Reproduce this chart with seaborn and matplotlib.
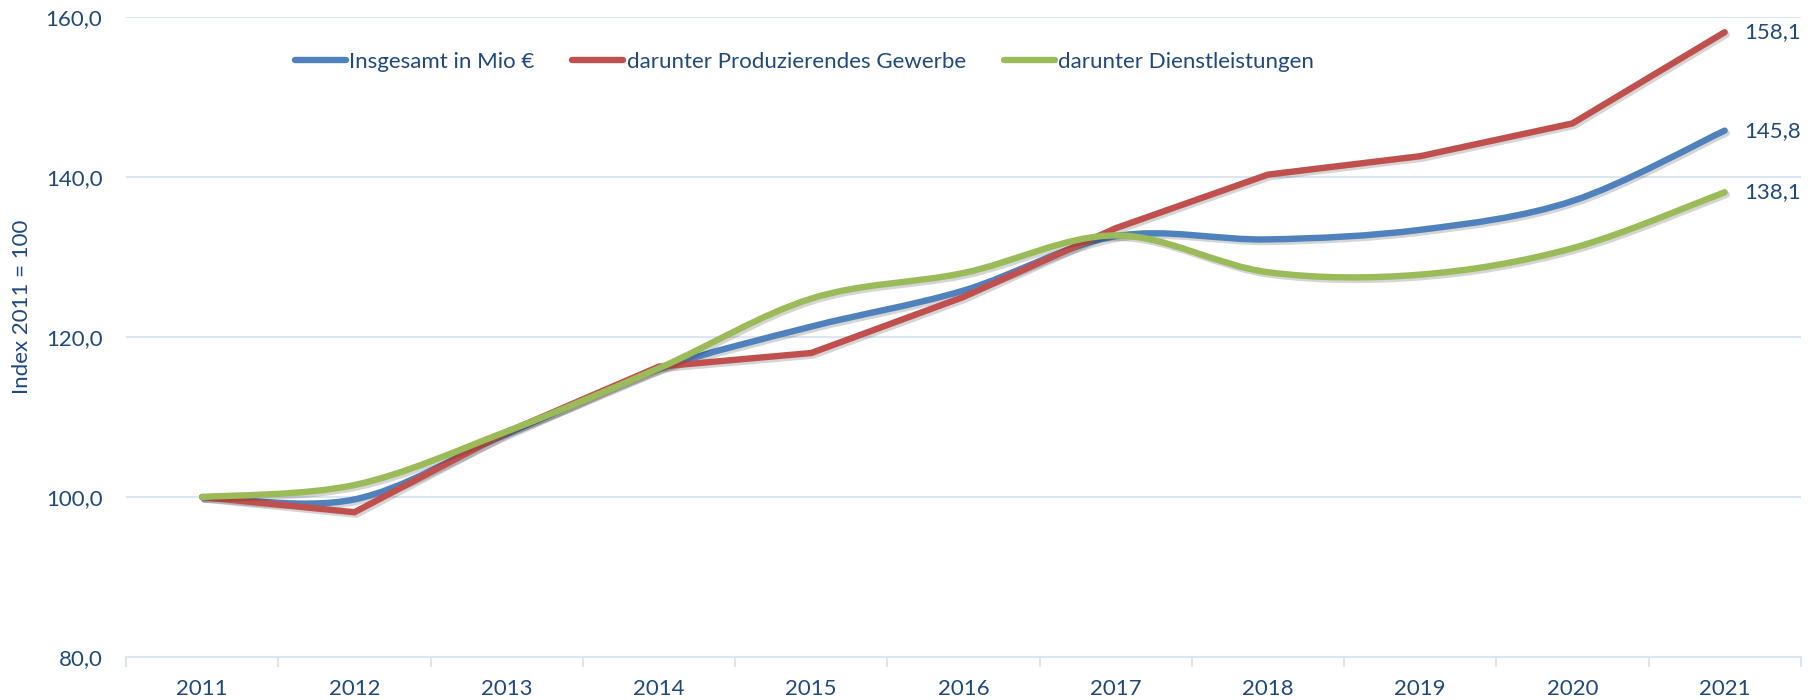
import matplotlib
matplotlib.use("Agg")
import matplotlib.pyplot as plt
import matplotlib.patheffects as pe
from matplotlib.path import Path
from matplotlib.patches import PathPatch
from matplotlib.lines import Line2D
import numpy as np
import pandas as pd
import seaborn as sns

# ---- data (index 2011 = 100) ----
years = [2011, 2012, 2013, 2014, 2015, 2016, 2017, 2018, 2019, 2020, 2021]
insgesamt = [100.0, 99.7, 107.9, 116.0, 121.3, 125.8, 132.6, 132.2, 133.4, 137.0, 145.8]
produzierend = [100.0, 98.1, 108.1, 116.3, 118.0, 125.0, 133.6, 140.3, 142.6, 146.7, 158.1]
dienstleistungen = [100.0, 101.5, 108.2, 116.1, 124.8, 128.0, 132.7, 128.1, 127.8, 131.1, 138.1]
end_labels = ["145,8", "158,1", "138,1"]

names = ["Insgesamt in Mio €", "darunter Produzierendes Gewerbe", "darunter Dienstleistungen"]
colors = ["#4F81BD", "#C0504D", "#9BBB59"]
smoothed = [True, False, True]  # Excel "smoothed line" on blue and green
TEXT = "#1F497D"
GRID = "#DCE5F2"
FS = 16


def bezier_path(xs, ys):
    """Excel-like smoothed line: Catmull-Rom segments as cubic Bezier curves."""
    pts = np.column_stack([xs, ys]).astype(float)
    n = len(pts)
    verts, codes = [pts[0]], [Path.MOVETO]
    for i in range(n - 1):
        p0, p1 = pts[max(i - 1, 0)], pts[i]
        p2, p3 = pts[i + 1], pts[min(i + 2, n - 1)]
        verts += [p1 + (p2 - p0) / 6, p2 - (p3 - p1) / 6, p2]
        codes += [Path.CURVE4] * 3
    return Path(verts, codes)


sns.set_theme(style="white")
plt.rcParams["font.family"] = ["Lato", "DejaVu Sans"]

df = pd.DataFrame({"Jahr": years * 3,
                   "Index": insgesamt + produzierend + dienstleistungen,
                   "Reihe": sum([[n] * len(years) for n in names], [])})

fig, ax = plt.subplots(figsize=(18.19, 7.0), dpi=100)
fig.subplots_adjust(left=0.0693, right=0.990, top=0.9757, bottom=0.0614)

shadow = [pe.SimpleLineShadow(offset=(1.5, -1.8), shadow_color="k", alpha=0.18),
          pe.Normal()]
lw = 4.6

for name, col, smooth in zip(names, colors, smoothed):
    sub = df[df["Reihe"] == name]
    if smooth:
        patch = PathPatch(bezier_path(sub["Jahr"], sub["Index"]), fill=False,
                          edgecolor=col, lw=lw, capstyle="round",
                          joinstyle="round", zorder=3, path_effects=shadow)
        ax.add_patch(patch)
    else:
        sns.lineplot(data=sub, x="Jahr", y="Index", color=col, lw=lw, ax=ax,
                     legend=False, zorder=3, solid_capstyle="round",
                     solid_joinstyle="miter", path_effects=shadow)

# end-of-line value labels
for vals, lab in zip([insgesamt, produzierend, dienstleistungen], end_labels):
    ax.annotate(lab, (years[-1], vals[-1]), xytext=(14, 0),
                textcoords="offset points", va="center", ha="left",
                color=TEXT, fontsize=FS)

# axes
ax.set_xlim(years[0] - 0.5, years[-1] + 0.5)
ax.set_ylim(80, 160)
ax.set_yticks([80, 100, 120, 140, 160])
ax.set_yticklabels([f"{v:.1f}".replace(".", ",") for v in [80, 100, 120, 140, 160]])
ax.set_xticks(np.arange(years[0] - 0.5, years[-1] + 1.0, 1.0))
ax.set_xticklabels([])
ax.set_xticks(years, minor=True)
ax.set_xticklabels([str(y) for y in years], minor=True)
ax.tick_params(axis="x", which="major", length=7, width=1.5, color=GRID,
               direction="out", bottom=True)
ax.tick_params(axis="x", which="minor", length=0, pad=16, labelsize=FS,
               labelcolor=TEXT)
ax.tick_params(axis="y", length=0, pad=17, labelsize=FS, labelcolor=TEXT)

ax.grid(axis="y", color=GRID, lw=1.5)
ax.grid(axis="x", visible=False)
ax.set_axisbelow(True)
for s in ["top", "right", "left"]:
    ax.spines[s].set_visible(False)
ax.spines["bottom"].set_color(GRID)
ax.spines["bottom"].set_linewidth(1.5)

ax.set_xlabel("")
ax.set_ylabel("Index 2011 = 100", color=TEXT, fontsize=FS)
ax.yaxis.set_label_coords(-0.056, 0.547)

handles = [Line2D([], [], color=c, lw=lw, solid_capstyle="round") for c in colors]
ax.legend(handles, names, loc="center", bbox_to_anchor=(0.405, 0.93), ncol=3,
          frameon=False, fontsize=FS, labelcolor=TEXT, handlelength=2.3,
          handletextpad=0.15, columnspacing=1.7)

fig.savefig("out.png", dpi=100)
